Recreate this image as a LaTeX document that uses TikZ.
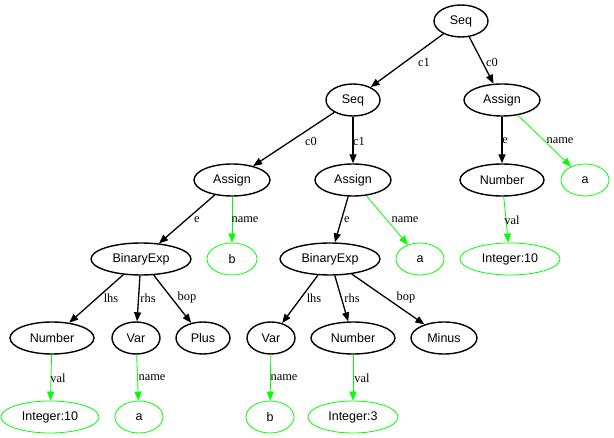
\documentclass[tikz,border=0pt]{standalone}
\usepackage{fontspec}
\setmainfont{Liberation Serif}
\setsansfont{Liberation Sans}
\usetikzlibrary{shapes.geometric,arrows.meta}
\definecolor{gv}{RGB}{0,255,0}
\begin{document}
\begin{tikzpicture}[x=1pt,y=-1pt,
 bn/.style={ellipse,draw=black,line width=1.4pt,inner sep=0pt,minimum height=32pt,font=\sffamily\fontsize{12.5}{14}\selectfont},
 gn/.style={bn,draw=gv,line width=0.8pt},
 be/.style={line width=1.3pt,-{Triangle[length=9pt,width=7pt]}},
 ge/.style={color=gv,line width=0.8pt,-{Triangle[length=9pt,width=7pt]}},
 lb/.style={inner sep=0pt,font=\fontsize{12.4}{14}\selectfont}]
\useasboundingbox (0,0) rectangle (614,438);
% nodes
\node[bn,minimum width=54pt] (s1) at (461,21) {Seq};
\node[bn,minimum width=54pt] (s2) at (353,100) {Seq};
\node[bn,minimum width=76pt] (as3) at (502,100) {Assign};
\node[bn,minimum width=76pt] (as1) at (232,180) {Assign};
\node[bn,minimum width=76pt] (as2) at (353,180) {Assign};
\node[bn,minimum width=84pt] (n3) at (502,180) {Number};
\node[gn,minimum width=48pt] (a3) at (585,180) {a};
\node[bn,minimum width=100pt] (be1) at (141,259) {BinaryExp};
\node[gn,minimum width=50pt] (b1) at (232,259) {b};
\node[bn,minimum width=100pt] (be2) at (330,259) {BinaryExp};
\node[gn,minimum width=48pt] (a2) at (420,259) {a};
\node[gn,minimum width=100pt] (i3) at (510,259) {Integer:10};
\node[bn,minimum width=84pt] (n1) at (52,338) {Number};
\node[bn,minimum width=48pt] (v1) at (136,338) {Var};
\node[bn,minimum width=54pt] (pl) at (203,338) {Plus};
\node[bn,minimum width=48pt] (v2) at (271,338) {Var};
\node[bn,minimum width=84pt] (n2) at (353,338) {Number};
\node[bn,minimum width=66pt] (mi) at (444,338) {Minus};
\node[gn,minimum width=98pt] (i1) at (50,417) {Integer:10};
\node[gn,minimum width=48pt] (a1) at (139,417) {a};
\node[gn,minimum width=48pt] (b2) at (270,417) {b};
\node[gn,minimum width=90pt] (i2) at (353,417) {Integer:3};
% edges
\draw[be] (s1) -- (s2);
\draw[be] (s1) -- (as3);
\draw[be] (s2) -- (as1);
\draw[be] (s2) -- (as2);
\draw[be] (as3) -- (n3);
\draw[ge] (as3) -- (a3);
\draw[be] (as1) -- (be1);
\draw[ge] (as1) -- (b1);
\draw[be] (as2) -- (be2);
\draw[ge] (as2) -- (a2);
\draw[ge] (n3) -- (i3);
\draw[be] (be1) -- (n1);
\draw[be] (be1) -- (v1);
\draw[be] (be1) -- (pl);
\draw[be] (be2) -- (v2);
\draw[be] (be2) -- (n2);
\draw[be] (be2) -- (mi);
\draw[ge] (n1) -- (i1);
\draw[ge] (v1) -- (a1);
\draw[ge] (v2) -- (b2);
\draw[ge] (n2) -- (i2);
% edge labels
\node[lb] (l1) at (424,62) {c1};
\node[lb] (l2) at (492,62) {c0};
\node[lb] (l3) at (311,141) {c0};
\node[lb] (l4) at (359,141) {c1};
\node[lb] (l5) at (505,141) {e};
\node[lb] (l6) at (560,141) {name};
\node[lb] (l7) at (197,220) {e};
\node[lb] (l8) at (245,220) {name};
\node[lb] (l9) at (347,220) {e};
\node[lb] (l10) at (405,220) {name};
\node[lb] (l11) at (512,220) {val};
\node[lb] (l12) at (111,298) {lhs};
\node[lb] (l13) at (148,298) {rhs};
\node[lb] (l14) at (187,298) {bop};
\node[lb] (l15) at (314,298) {lhs};
\node[lb] (l16) at (352,298) {rhs};
\node[lb] (l17) at (406,298) {bop};
\node[lb] (l18) at (58,378) {val};
\node[lb] (l19) at (152,378) {name};
\node[lb] (l20) at (284,378) {name};
\node[lb] (l21) at (362,378) {val};
\end{tikzpicture}
\end{document}
